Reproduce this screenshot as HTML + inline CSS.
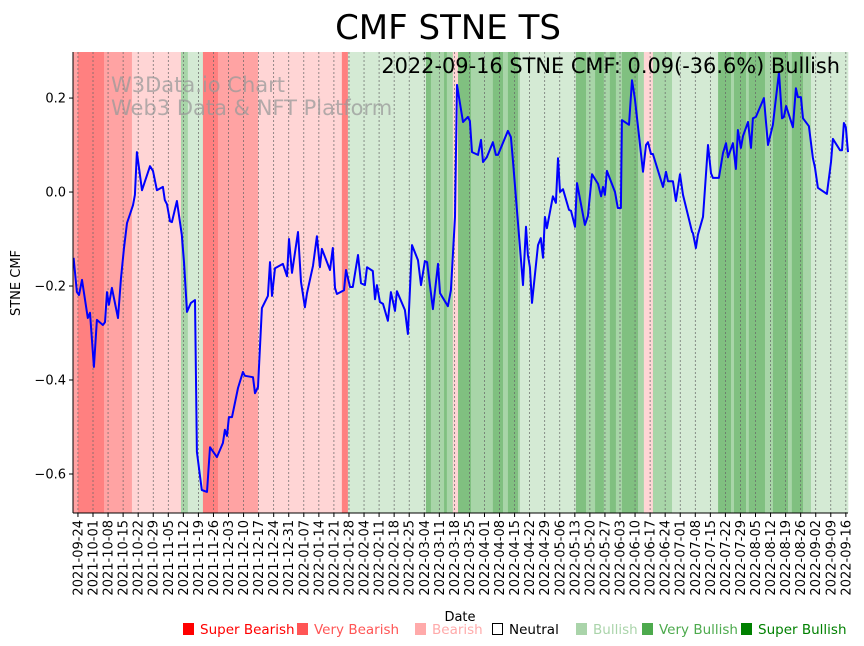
<!DOCTYPE html>
<html><head><meta charset="utf-8"><style>
body{margin:0;background:#fff;width:864px;height:646px;overflow:hidden;font-family:"Liberation Sans","DejaVu Sans",sans-serif}
svg{display:block}
</style></head><body>
<svg id="chart" width="864" height="646" xmlns="http://www.w3.org/2000/svg" font-family="'DejaVu Sans','Liberation Sans',sans-serif">
<text x="448" y="39" text-anchor="middle" font-size="34">CMF STNE TS</text>
<g id="bands"></g>
<g id="grid"></g>
<text x="111" y="92" font-size="21" fill="#999" fill-opacity="0.75">W3Data.io Chart</text>
<text x="111" y="115" font-size="21" fill="#999" fill-opacity="0.75">Web3 Data &amp; NFT Platform</text>
<path id="cmfline" fill="none" stroke="#0000ff" stroke-width="2" stroke-linejoin="round"/>
<text x="840" y="73" text-anchor="end" font-size="20.9">2022-09-16 STNE CMF: 0.09(-36.6%) Bullish</text>
<g id="axes"></g>
<text x="460" y="621" text-anchor="middle" font-size="13">Date</text>
<text transform="translate(20,283) rotate(-90)" text-anchor="middle" font-size="13">STNE CMF</text>
<g id="legend"></g>
</svg>
<script>
const days=[-2,-0.5,0.5,1.9,4.6,5.6,7.4,8.8,11.6,12.6,13.5,14.4,15.8,18.6,20,21.4,22.8,25.6,26.5,27.4,29.8,33.5,34.9,36.7,39.5,40.4,41.4,42.8,43.7,46,48.3,49.3,50.7,52.5,54.4,55.3,57.6,60,61.4,64.6,67.4,68.3,69.3,70.2,71.6,74.4,76.7,77.6,81.4,82.3,83.7,85.5,88.3,89.3,90.2,91.6,95.3,97.2,98.1,99.5,102.3,103.7,105.5,106.5,109.3,111.1,112.5,113.4,117.2,118.5,119.5,120.4,123.7,124.6,126.5,127.8,130.2,131.6,133.4,134.4,137.1,138.1,139,140.4,141.8,144.1,145.5,147.4,148.3,152,153.4,155.3,158.1,159.5,161.3,162.3,165,167.4,168.3,172,173.4,175.3,176.2,179,181.3,182.2,183.2,186,187.4,188.3,190.1,192.9,194.3,195.3,199.9,201.3,202.2,206.9,208.3,209.2,210.1,211.1,213.9,215.2,216.2,217.1,218,220.8,222.2,223.2,224.1,225.5,228.3,229.2,231.1,232,235.7,237.1,239,241.8,243.2,244.1,245,245.9,249.7,251,252.4,252.9,256.2,257.6,258.9,262.7,264.1,265,266.4,267.3,272,273.4,274.3,276.6,278,279.9,281.3,285.5,285.9,287.3,288.2,290.6,292.9,294.3,295.2,298,299.9,301.3,302.2,304.5,305.9,306.8,308.2,309.2,311.5,312.9,313.8,315.2,318.9,320.8,323.1,324,325.9,327.3,328.2,329.2,332.4,333.8,334.7,336.1,337.1,339.8,341.7,342.6,344,348.2,350.1,351,354.3,355.2,356.1,357,358];
const cmf=[-0.14,-0.213,-0.219,-0.187,-0.268,-0.257,-0.372,-0.272,-0.283,-0.277,-0.213,-0.24,-0.204,-0.268,-0.183,-0.119,-0.066,-0.028,-0.006,0.085,0.004,0.055,0.045,0.004,0.011,-0.017,-0.026,-0.062,-0.064,-0.019,-0.091,-0.149,-0.255,-0.236,-0.23,-0.553,-0.634,-0.638,-0.543,-0.564,-0.534,-0.506,-0.519,-0.479,-0.479,-0.417,-0.383,-0.391,-0.394,-0.428,-0.415,-0.247,-0.221,-0.149,-0.221,-0.162,-0.153,-0.179,-0.1,-0.172,-0.085,-0.191,-0.245,-0.215,-0.157,-0.094,-0.16,-0.121,-0.166,-0.119,-0.204,-0.217,-0.209,-0.166,-0.202,-0.202,-0.134,-0.194,-0.198,-0.16,-0.168,-0.228,-0.198,-0.234,-0.238,-0.274,-0.213,-0.253,-0.211,-0.251,-0.302,-0.113,-0.145,-0.198,-0.147,-0.149,-0.249,-0.153,-0.215,-0.243,-0.209,-0.053,0.228,0.149,0.16,0.151,0.085,0.079,0.111,0.064,0.074,0.106,0.079,0.079,0.13,0.117,0.068,-0.198,-0.074,-0.134,-0.16,-0.236,-0.113,-0.098,-0.14,-0.053,-0.077,-0.009,-0.023,0.072,0,0.006,-0.038,-0.04,-0.074,0.019,-0.07,-0.051,0.038,0.017,-0.009,0.011,-0.006,0.045,0,-0.034,-0.034,0.153,0.143,0.238,0.2,0.043,0.1,0.106,0.081,0.081,0.011,0.043,0.023,0.023,-0.019,0.038,-0.006,-0.085,-0.087,-0.119,-0.091,-0.053,0.1,0.04,0.03,0.03,0.083,0.104,0.074,0.104,0.049,0.132,0.094,0.119,0.149,0.094,0.157,0.16,0.2,0.1,0.143,0.181,0.255,0.157,0.16,0.183,0.138,0.221,0.202,0.202,0.157,0.14,0.072,0.053,0.009,-0.004,0.064,0.113,0.089,0.089,0.147,0.138,0.085];
const bandStarts=[-2.3,0,12.1,25.1,47.9,51.1,58.1,65.1,83.7,122.7,125.5,161.8,164.1,170.2,171.5,174.3,176.7,182.7,192.9,197.6,199.9,204.6,205.5,231.5,236.2,240.4,244.5,247.3,250.1,252.9,260.4,263.1,267.3,276.2,297.6,303.6,305,310.6,311.9,319.4,323.1,330.1,331.9,337.1,340.8];
const bandLevels=[-2,-3,-2,-1,2,1,-3,-2,-1,-3,1,3,2,3,2,-1,3,2,3,2,3,2,1,3,2,3,2,3,2,3,2,-1,2,1,3,2,3,2,3,2,3,2,3,2,1];
const bandEnd=358;
const yTicks=[0.2,0,-0.2,-0.4,-0.6];
const yTickLabels=["0.2","0.0","\u22120.2","\u22120.4","\u22120.6"];
const startDate=new Date(Date.UTC(2021,8,24));
const weekCount=52;
const legendLabels=["Super Bearish","Very Bearish","Bearish","Neutral","Bullish","Very Bullish","Super Bullish"];

const L=73,R=848,T=52,B=513,dMin=-2.3,dMax=358,vMin=-0.683,vMax=0.298;
const xs=d=>L+(d-dMin)/(dMax-dMin)*(R-L);
const ys=v=>B-(v-vMin)/(vMax-vMin)*(B-T);
const NS="http://www.w3.org/2000/svg";
function mk(tag,attrs,parent){const e=document.createElementNS(NS,tag);for(const k in attrs)e.setAttribute(k,attrs[k]);parent.appendChild(e);return e;}
const bandColor={"-3":"#ff8080","-2":"#ffa3a3","-1":"#ffd5d5","1":"#d4ead4","2":"#a8d5a8","3":"#80c080"};
const bg=document.getElementById('bands');
bandStarts.forEach((s,i)=>{const e=i<bandStarts.length-1?bandStarts[i+1]:bandEnd;
 const r=mk('rect',{x:xs(s),y:T,width:Math.max(0,xs(e)-xs(s))+0.3,height:B-T,fill:bandColor[bandLevels[i]]},bg);
 
 });
const gg=document.getElementById('grid'),ax=document.getElementById('axes');
for(let k=0;k<weekCount;k++){const d=k*7,x=xs(d);
 const g=mk('line',{x1:x,x2:x,y1:T,y2:B,stroke:'#666','stroke-width':0.7,'stroke-dasharray':'2,2'},gg);
 
 
 mk('line',{x1:x,x2:x,y1:B,y2:B+4,stroke:'#000','stroke-width':1},ax);
 const dt=new Date(startDate.getTime()+d*86400000);
 const lab=dt.toISOString().slice(0,10);
 const t=mk('text',{transform:`translate(${x+4.5},${B+7}) rotate(-90)`,'text-anchor':'end','font-size':13},ax);
 t.textContent=lab;
 
 }
yTicks.forEach((v,i)=>{const y=ys(v);
 mk('line',{x1:L-4,x2:L,y1:y,y2:y,stroke:'#000'},ax);
 const t=mk('text',{x:L-7,y:y+4.5,'text-anchor':'end','font-size':13},ax);
 t.textContent=yTickLabels[i];
 
 });
mk('line',{x1:L,x2:L,y1:T,y2:B,stroke:'#000'},ax);
mk('line',{x1:L,x2:R,y1:B,y2:B,stroke:'#000'},ax);
document.getElementById('cmfline').setAttribute('d',days.map((d,i)=>(i?'L':'M')+xs(d).toFixed(1)+','+ys(cmf[i]).toFixed(1)).join(''));
const lg=document.getElementById('legend');
const legCol=["#ff0000","#ff5555","#ffaaaa","#000","#aad4aa","#4daa4d","#008000"];
const legX=[183,297,415,492,576,642,741];
legendLabels.forEach((s,i)=>{
 const g=mk('g',{},lg);
 
 
 if(i===3)mk('rect',{x:legX[i]+0.5,y:623.5,width:10,height:11,fill:'#fff',stroke:'#000'},g);
 else mk('rect',{x:legX[i],y:623,width:11,height:12,fill:legCol[i]},g);
 const t=mk('text',{x:legX[i]+17,y:634,'font-size':13.5,fill:legCol[i]},g);t.textContent=s;});
</script>
</body></html>
